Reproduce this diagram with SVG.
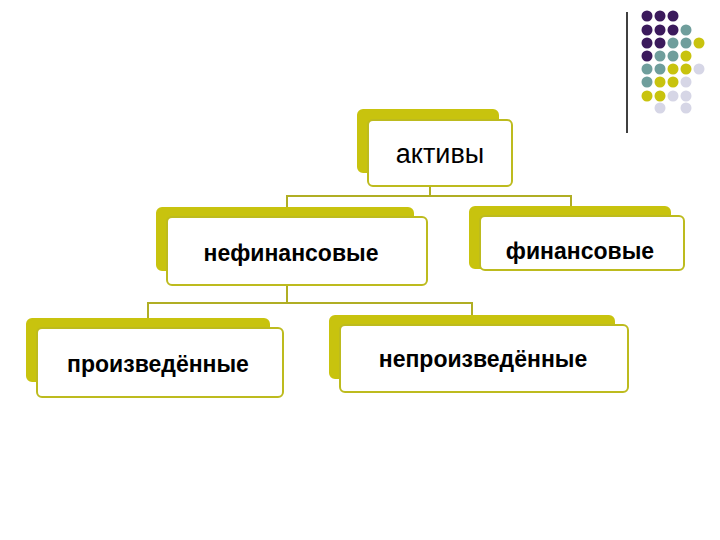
<svg xmlns="http://www.w3.org/2000/svg" width="720" height="540" viewBox="0 0 720 540">
<style>
.sh{fill:#c8c30e;stroke:#c8c30e;stroke-width:2}
.fr{fill:#fff;stroke:#bdbb1e;stroke-width:2}
.t{font-family:"Liberation Sans",Arial,sans-serif;font-size:23px;font-weight:bold;fill:#000;text-anchor:middle}
.c{fill:none;stroke:#b0ae24;stroke-width:2}
.p{fill:#3b1a5c}.g{fill:#6f9e9c}.y{fill:#c8c30e}.l{fill:#d6d6e6}
</style>
<rect width="720" height="540" fill="#fff"/>
<line x1="627" y1="12" x2="627" y2="133" stroke="#000" stroke-width="1.5"/>
<g id="dots">
<circle class="p" cx="647" cy="16" r="5.5"/><circle class="p" cx="660" cy="16" r="5.5"/><circle class="p" cx="673" cy="16" r="5.5"/>
<circle class="p" cx="647" cy="30" r="5.5"/><circle class="p" cx="660" cy="30" r="5.5"/><circle class="p" cx="673" cy="30" r="5.5"/><circle class="g" cx="686" cy="30" r="5.5"/>
<circle class="p" cx="647" cy="43" r="5.5"/><circle class="p" cx="660" cy="43" r="5.5"/><circle class="g" cx="673" cy="43" r="5.5"/><circle class="g" cx="686" cy="43" r="5.5"/><circle class="y" cx="699" cy="43" r="5.5"/>
<circle class="p" cx="647" cy="56" r="5.5"/><circle class="g" cx="660" cy="56" r="5.5"/><circle class="g" cx="673" cy="56" r="5.5"/><circle class="y" cx="686" cy="56" r="5.5"/>
<circle class="g" cx="647" cy="69" r="5.5"/><circle class="g" cx="660" cy="69" r="5.5"/><circle class="y" cx="673" cy="69" r="5.5"/><circle class="y" cx="686" cy="69" r="5.5"/><circle class="l" cx="699" cy="69" r="5.5"/>
<circle class="g" cx="647" cy="82" r="5.5"/><circle class="y" cx="660" cy="82" r="5.5"/><circle class="y" cx="673" cy="82" r="5.5"/><circle class="l" cx="686" cy="82" r="5.5"/>
<circle class="y" cx="647" cy="96" r="5.5"/><circle class="y" cx="660" cy="96" r="5.5"/><circle class="l" cx="673" cy="96" r="5.5"/><circle class="l" cx="686" cy="96" r="5.5"/>
<circle class="l" cx="660" cy="108" r="5.5"/><circle class="l" cx="686" cy="108" r="5.5"/>
</g>
<g id="connectors">
<path class="c" d="M430 186V196M287 208V196H571V207"/>
<path class="c" d="M287 285V303M148 319V303H472V316"/>
</g>
<g id="aktivy">
<rect class="sh" x="358" y="110" width="140" height="62" rx="5"/>
<rect class="fr" x="368" y="120" width="144" height="66" rx="5"/>
<text class="t" x="440" y="163" style="font-weight:normal;font-size:27px">активы</text>
</g>
<g id="nefin">
<rect class="sh" x="157" y="208" width="256" height="62" rx="5"/>
<rect class="fr" x="167" y="217" width="260" height="68" rx="5"/>
<text class="t" x="291" y="261">нефинансовые</text>
</g>
<g id="fin">
<rect class="sh" x="470" y="207" width="200" height="61" rx="5"/>
<rect class="fr" x="480" y="216" width="204" height="54" rx="5"/>
<text class="t" x="580" y="259">финансовые</text>
</g>
<g id="proizv">
<rect class="sh" x="27" y="319" width="242" height="62" rx="5"/>
<rect class="fr" x="37" y="328" width="246" height="69" rx="5"/>
<text class="t" x="158" y="372">произведённые</text>
</g>
<g id="neproizv">
<rect class="sh" x="330" y="316" width="284" height="62" rx="5"/>
<rect class="fr" x="340" y="325" width="288" height="67" rx="5"/>
<text class="t" x="483" y="367">непроизведённые</text>
</g>
</svg>
